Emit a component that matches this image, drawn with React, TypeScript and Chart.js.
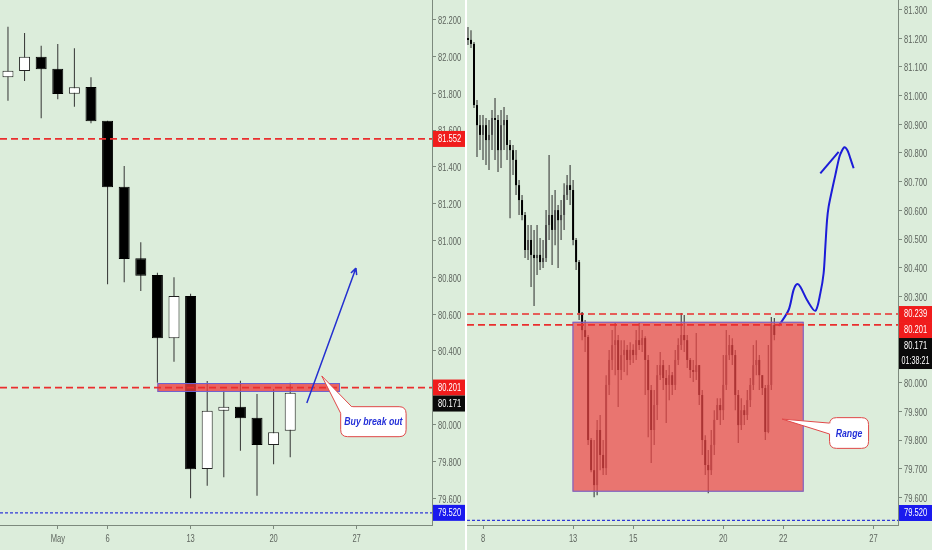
import React, { useEffect, useRef } from 'react';
import { Chart, registerables } from 'chart.js';
Chart.register(...registerables);

const FONT = "'Liberation Sans', Arial, sans-serif";
const BG = '#DCEDDB';
const AXIS = '#7d8a7d';
const TICK = '#5f665f';
const SQUEEZE = 0.72;

// ---------- LEFT PANEL: daily candles ----------
const leftOpen = [81.887, 81.921, 81.999, 81.934, 81.798, 81.834, 81.651, 81.292, 80.903, 80.813, 80.469, 80.698, 79.758, 80.075, 80.097, 80.037, 79.889, 79.966];
const leftHigh = [82.162, 82.128, 82.059, 82.068, 82.045, 81.887, 81.651, 81.405, 80.990, 80.825, 80.800, 80.710, 80.236, 80.184, 80.238, 80.166, 80.193, 80.227];
const leftLow = [81.760, 81.867, 81.664, 81.767, 81.727, 81.637, 80.762, 80.773, 80.726, 80.227, 80.341, 79.599, 79.667, 79.713, 79.858, 79.613, 79.784, 79.822];
const leftClose = [81.923, 81.999, 81.930, 81.796, 81.833, 81.648, 81.289, 80.900, 80.809, 80.469, 80.698, 79.757, 80.075, 80.097, 80.034, 79.889, 79.958, 80.173];
const leftTickPos = [3, 6, 11, 16, 21];
const leftTickLabels = ['May', '6', '13', '20', '27'];
const leftPriceTicks = [79.6, 79.8, 80.0, 80.2, 80.4, 80.6, 80.8, 81.0, 81.2, 81.4, 81.6, 81.8, 82.0, 82.2];
const leftRedLevels = [81.552, 80.201];
const leftBlueLevel = 79.52;
const leftTags = [
  { v: 81.552, color: '#f01c1c' },
  { v: 80.201, color: '#f01c1c' },
  { v: 80.171, color: '#0a0a0a' },
  { v: 79.52, color: '#1a1aee' },
];
const leftZone = { x0: 9.0, x1: 20.0, yTop: 80.2255, yBot: 80.177 };
const leftArrow = { x0: 18.0, y0: 80.117, x1: 20.96, y1: 80.85 };
const leftCallout = { x0: 20.04, x1: 23.98, yTop: 80.097, yBot: 79.934, tipX: 18.9, tipY: 80.264, b1X: 20.04, b1Y: 80.061, b2X: 20.7, b2Y: 80.097, text: 'Buy break out' };

// ---------- RIGHT PANEL: intraday candles ----------
const rightFirstOpen = 81.201;
const rightClose = [81.194, 81.180, 80.967, 80.897, 80.863, 80.897, 80.845, 80.863, 80.922, 80.915,
  80.810, 80.897, 80.915, 80.828, 80.810, 80.776, 80.688, 80.636, 80.584, 80.462,
  80.497, 80.445, 80.434, 80.445, 80.420, 80.434, 80.549, 80.584, 80.532, 80.601,
  80.566, 80.584, 80.654, 80.688, 80.671, 80.497, 80.420, 80.243, 80.183, 80.159,
  79.800, 79.695, 79.643, 79.835, 79.748, 79.702, 79.992, 80.079, 80.131, 80.148,
  80.044, 80.096, 80.114, 80.079, 80.114, 80.096, 80.148, 80.131, 80.155, 80.079,
  79.974, 79.835, 79.922, 80.026, 80.061, 80.016, 79.992, 80.026, 79.992, 80.079,
  80.131, 80.166, 80.148, 80.079, 80.044, 80.037, 80.061, 79.957, 79.800, 79.713,
  79.695, 79.783, 79.870, 79.922, 79.904, 79.992, 80.096, 80.131, 80.096, 79.957,
  79.852, 79.904, 79.887, 79.939, 79.992, 80.061, 80.079, 80.026, 79.981, 79.828,
  79.992, 80.201, 80.166];
const rightHigh = [81.239, 81.228, 81.187, 80.985, 80.932, 80.932, 80.922, 80.915, 80.950, 80.992,
  80.932, 80.950, 80.960, 80.932, 80.845, 80.828, 80.810, 80.706, 80.654, 80.594,
  80.549, 80.549, 80.532, 80.549, 80.504, 80.497, 80.601, 80.793, 80.654, 80.671,
  80.619, 80.636, 80.695, 80.723, 80.758, 80.706, 80.504, 80.427, 80.246, 80.218,
  80.166, 79.807, 79.800, 79.870, 79.887, 79.800, 80.026, 80.114, 80.183, 80.208,
  80.166, 80.148, 80.148, 80.131, 80.141, 80.134, 80.183, 80.208, 80.183, 80.162,
  80.096, 79.992, 79.974, 80.061, 80.107, 80.079, 80.044, 80.061, 80.037, 80.114,
  80.155, 80.243, 80.236, 80.166, 80.086, 80.079, 80.173, 80.061, 79.974, 79.817,
  79.765, 79.835, 79.904, 79.946, 79.946, 80.096, 80.183, 80.166, 80.155, 80.114,
  79.974, 79.946, 79.922, 79.974, 80.016, 80.131, 80.148, 80.096, 80.026, 79.992,
  80.131, 80.229, 80.225];
const rightLow = [81.176, 81.166, 80.957, 80.786, 80.810, 80.776, 80.758, 80.741, 80.810, 80.776,
  80.734, 80.748, 80.810, 80.776, 80.573, 80.723, 80.654, 80.584, 80.566, 80.434,
  80.427, 80.333, 80.267, 80.375, 80.392, 80.399, 80.420, 80.497, 80.410, 80.479,
  80.399, 80.497, 80.532, 80.636, 80.619, 80.479, 80.392, 80.218, 80.148, 80.107,
  79.783, 79.688, 79.601, 79.608, 79.695, 79.678, 79.678, 79.957, 80.044, 80.026,
  79.915, 80.009, 80.037, 80.026, 80.061, 80.068, 80.079, 80.114, 80.107, 79.957,
  79.810, 79.720, 79.783, 79.870, 80.009, 79.974, 79.859, 79.939, 79.957, 79.974,
  80.061, 80.114, 80.107, 80.051, 80.016, 80.002, 80.009, 79.922, 79.748, 79.678,
  79.615, 79.678, 79.748, 79.870, 79.852, 79.870, 79.974, 80.079, 80.061, 79.904,
  79.790, 79.835, 79.852, 79.870, 79.915, 79.974, 80.026, 79.974, 79.957, 79.800,
  79.824, 79.974, 80.148];
const rightOpen = [rightFirstOpen, ...rightClose.slice(0, -1)];
const rightTickPos = [5, 35, 55, 85, 105, 135];
const rightTickLabels = ['8', '13', '15', '20', '22', '27'];
const rightPriceTicks = [79.6, 79.7, 79.8, 79.9, 80.0, 80.1, 80.2, 80.3, 80.4, 80.5, 80.6, 80.7, 80.8, 80.9, 81.0, 81.1, 81.2, 81.3];
const rightRedLevels = [80.239, 80.201];
const rightBlueLevel = 79.52;
const rightTags = [
  { v: 80.239, color: '#f01c1c' },
  { v: 80.201, color: '#f01c1c' },
  { v: 80.171, color: '#0a0a0a', extra: '01:38:21' },
  { v: 79.52, color: '#1a1aee' },
];
const rightZone = { x0: 34.8, x1: 111.8, yTop: 80.212, yBot: 79.62 };
const rightCallout = { x0: 120.4, x1: 133.4, yTop: 79.878, yBot: 79.771, tipX: 104.6, tipY: 79.873, b1X: 120.4, b1Y: 79.859, b2X: 120.4, b2Y: 79.821, text: 'Range' };
const pathX = [103.43, 106.77, 108.43, 109.57, 110.67, 112.9, 115.67, 117.33, 118.43, 119.0, 119.57, 120.1, 121.23, 122.33, 123.43, 124.0, 125.33, 126.43, 127.33, 128.43];
const pathY = [80.197, 80.253, 80.323, 80.343, 80.334, 80.288, 80.25, 80.311, 80.381, 80.473, 80.566, 80.613, 80.671, 80.723, 80.776, 80.796, 80.82, 80.808, 80.781, 80.747];
const branchX = [117.33, 123.43];
const branchY = [80.729, 80.804];

function candleDatasets(open: number[], high: number[], low: number[], close: number[], bodyW: number, up: string, down: string, upBorder: string, wick: string, bw: number) {
  const xs = close.map((_, i) => i);
  return [
    {
      type: 'bar', label: 'wick', order: 3,
      data: xs.map(i => ({ x: i, y: [low[i], high[i]] })),
      backgroundColor: wick, borderWidth: 0, barThickness: 1, grouped: false, inflateAmount: 0,
    },
    {
      type: 'bar', label: 'body', order: 2,
      data: xs.map(i => ({ x: i, y: [open[i], close[i]] })),
      backgroundColor: xs.map(i => (close[i] >= open[i] ? up : down)),
      borderColor: xs.map(i => (close[i] >= open[i] ? upBorder : down)),
      borderWidth: bw, borderSkipped: false, barThickness: bodyW, grouped: false, inflateAmount: 0,
    },
  ];
}

function squeezedText(ctx: CanvasRenderingContext2D, s: string, x: number, y: number, align: 'left' | 'center', k: number) {
  ctx.save();
  ctx.translate(x, y);
  ctx.scale(k, 1);
  ctx.textAlign = align;
  ctx.textBaseline = 'middle';
  ctx.fillText(s, 0, 0);
  ctx.restore();
}

function roundRect(ctx: CanvasRenderingContext2D, x: number, y: number, w: number, h: number, r: number) {
  ctx.beginPath();
  ctx.moveTo(x + r, y);
  ctx.lineTo(x + w - r, y);
  ctx.quadraticCurveTo(x + w, y, x + w, y + r);
  ctx.lineTo(x + w, y + h - r);
  ctx.quadraticCurveTo(x + w, y + h, x + w - r, y + h);
  ctx.lineTo(x + r, y + h);
  ctx.quadraticCurveTo(x, y + h, x, y + h - r);
  ctx.lineTo(x, y + r);
  ctx.quadraticCurveTo(x, y, x + r, y);
  ctx.closePath();
}

function drawCallout(ctx: CanvasRenderingContext2D, xs: any, ys: any, c: any) {
  const L = xs.getPixelForValue(c.x0), R = xs.getPixelForValue(c.x1);
  const T = ys.getPixelForValue(c.yTop), B = ys.getPixelForValue(c.yBot);
  const tx = xs.getPixelForValue(c.tipX), ty = ys.getPixelForValue(c.tipY);
  const p1 = [xs.getPixelForValue(c.b1X), ys.getPixelForValue(c.b1Y)];
  const p2 = [xs.getPixelForValue(c.b2X), ys.getPixelForValue(c.b2Y)];
  const cx = (L + R) / 2, cy = (T + B) / 2;
  const inset = (p: number[]) => [p[0] + (cx - p[0]) * 0.15, p[1] + (cy - p[1]) * 0.15];
  ctx.save();
  ctx.lineWidth = 1;
  ctx.strokeStyle = '#e04848';
  ctx.fillStyle = '#ffffff';
  roundRect(ctx, L, T, R - L, B - T, 7);
  ctx.fill();
  ctx.stroke();
  const i1 = inset(p1), i2 = inset(p2);
  ctx.beginPath();
  ctx.moveTo(tx, ty);
  ctx.lineTo(p1[0], p1[1]);
  ctx.lineTo(i1[0], i1[1]);
  ctx.lineTo(i2[0], i2[1]);
  ctx.lineTo(p2[0], p2[1]);
  ctx.closePath();
  ctx.fill();
  ctx.beginPath();
  ctx.moveTo(p1[0], p1[1]);
  ctx.lineTo(tx, ty);
  ctx.lineTo(p2[0], p2[1]);
  ctx.stroke();
  ctx.fillStyle = '#2430d8';
  ctx.font = `italic bold 11.5px ${FONT}`;
  squeezedText(ctx, c.text, cx, cy + 0.5, 'center', 0.76);
  ctx.restore();
}

function makePlugin(p: any) {
  return {
    id: 'annot_' + p.id,
    afterDatasetsDraw(chart: any) {
      const { ctx, chartArea: a, scales } = chart;
      const xs = scales.x, ys = scales.y;
      ctx.save();
      ctx.beginPath();
      ctx.rect(a.left, a.top, a.right - a.left, a.bottom - a.top);
      ctx.clip();
      const z = p.zone;
      const zx0 = xs.getPixelForValue(z.x0), zx1 = xs.getPixelForValue(z.x1);
      const zy0 = ys.getPixelForValue(z.yTop), zy1 = ys.getPixelForValue(z.yBot);
      ctx.fillStyle = p.zoneFill;
      ctx.fillRect(zx0, zy0, zx1 - zx0, zy1 - zy0);
      ctx.strokeStyle = '#6a62d4';
      ctx.lineWidth = 1;
      ctx.strokeRect(zx0 + 0.5, zy0 + 0.5, zx1 - zx0 - 1, zy1 - zy0 - 1);
      ctx.strokeStyle = '#ea2e2e';
      ctx.lineWidth = 1.7;
      ctx.setLineDash([7, 4]);
      p.red.forEach((v: number) => {
        const y = ys.getPixelForValue(v);
        ctx.beginPath();
        ctx.moveTo(a.left, y);
        ctx.lineTo(a.right, y);
        ctx.stroke();
      });
      ctx.strokeStyle = '#3038d8';
      ctx.lineWidth = 1.2;
      ctx.setLineDash([3, 2]);
      const by = ys.getPixelForValue(p.blue);
      ctx.beginPath();
      ctx.moveTo(a.left, by);
      ctx.lineTo(a.right, by);
      ctx.stroke();
      ctx.setLineDash([]);
      if (p.arrow) {
        const ar = p.arrow;
        const ax0 = xs.getPixelForValue(ar.x0), ay0 = ys.getPixelForValue(ar.y0);
        const ax1 = xs.getPixelForValue(ar.x1), ay1 = ys.getPixelForValue(ar.y1);
        ctx.strokeStyle = '#2430d0';
        ctx.lineWidth = 1.5;
        ctx.beginPath();
        ctx.moveTo(ax0, ay0);
        ctx.lineTo(ax1, ay1);
        const ang = Math.atan2(ay1 - ay0, ax1 - ax0);
        const hl = 7;
        ctx.moveTo(ax1, ay1);
        ctx.lineTo(ax1 - hl * Math.cos(ang - 0.45), ay1 - hl * Math.sin(ang - 0.45));
        ctx.moveTo(ax1, ay1);
        ctx.lineTo(ax1 - hl * Math.cos(ang + 0.45), ay1 - hl * Math.sin(ang + 0.45));
        ctx.stroke();
      }
      drawCallout(ctx, xs, ys, p.callout);
      ctx.restore();
    },
    afterDraw(chart: any) {
      const { ctx, chartArea: a, scales } = chart;
      const xs = scales.x, ys = scales.y;
      ctx.save();
      ctx.font = `10.5px ${FONT}`;
      ctx.fillStyle = TICK;
      ys.ticks.forEach((t: any) => {
        squeezedText(ctx, Number(t.value).toFixed(3), a.right + 6, ys.getPixelForValue(t.value) + 1.5, 'left', SQUEEZE);
      });
      xs.ticks.forEach((t: any) => {
        const lbl = p.tickLabels[p.tickPos.indexOf(t.value)] ?? '';
        squeezedText(ctx, lbl, xs.getPixelForValue(t.value), a.bottom + 14, 'center', SQUEEZE);
      });
      const x0 = a.right + 1;
      const w = chart.width - x0;
      let prevBottom = -Infinity;
      p.tags.forEach((t: any) => {
        const lines = t.extra ? [t.v.toFixed(3), t.extra] : [t.v.toFixed(3)];
        const h = lines.length === 1 ? 16 : 31;
        let top = ys.getPixelForValue(t.v) - 8;
        if (top < prevBottom) top = prevBottom;
        if (top + h > a.bottom - 4) top = a.bottom - 4 - h;
        ctx.fillStyle = t.color;
        ctx.fillRect(x0, top, w, h);
        ctx.fillStyle = '#ffffff';
        lines.forEach((s: string, k: number) => {
          if (k === 0) squeezedText(ctx, s, a.right + 6, top + 8.5, 'left', SQUEEZE);
          else squeezedText(ctx, s, x0 + w / 2, top + 8.5 + 15 * k, 'center', 0.68);
        });
        prevBottom = top + h;
      });
      ctx.restore();
    },
  };
}

function buildConfig(p: any) {
  return {
    type: 'bar',
    data: { datasets: p.datasets },
    options: {
      responsive: false,
      animation: false,
      events: [],
      layout: { padding: 0, autoPadding: false },
      plugins: { legend: { display: false }, tooltip: { enabled: false } },
      scales: {
        x: {
          type: 'linear', min: p.xMin, max: p.xMax, offset: false,
          grid: { display: true, drawOnChartArea: false, drawTicks: true, tickLength: 4, color: AXIS, offset: false },
          border: { display: true, color: AXIS, width: 1 },
          ticks: { display: false, autoSkip: false, maxRotation: 0 },
          afterBuildTicks: (s: any) => { s.ticks = p.tickPos.map((v: number) => ({ value: v })); },
          afterFit: (s: any) => { s.height = 25; s.paddingLeft = 0; s.paddingRight = 0; s.paddingTop = 0; s.paddingBottom = 0; },
        },
        y: {
          type: 'linear', position: 'right', min: p.yMin, max: p.yMax, beginAtZero: false,
          grid: { display: true, drawOnChartArea: false, drawTicks: true, tickLength: 4, color: AXIS },
          border: { display: true, color: AXIS, width: 1 },
          ticks: { display: false, autoSkip: false },
          afterBuildTicks: (s: any) => { s.ticks = p.priceTicks.map((v: number) => ({ value: v })); },
          afterFit: (s: any) => { s.width = p.yAxisW; s.paddingTop = 0; s.paddingBottom = 0; s.paddingLeft = 0; s.paddingRight = 0; },
        },
      },
    },
    plugins: [makePlugin(p)],
  };
}

export default function App() {
  const leftRef = useRef<HTMLCanvasElement>(null);
  const rightRef = useRef<HTMLCanvasElement>(null);
  useEffect(() => {
    document.body.style.margin = '0';
    const left = {
      id: 'left',
      datasets: candleDatasets(leftOpen, leftHigh, leftLow, leftClose, 11, '#ffffff', '#000000', '#222222', '#333333', 1),
      xMin: -0.48, xMax: 25.54, yMin: 79.454, yMax: 82.307, yAxisW: 33,
      tickPos: leftTickPos, tickLabels: leftTickLabels, priceTicks: leftPriceTicks,
      red: leftRedLevels, blue: leftBlueLevel, tags: leftTags,
      zone: leftZone, zoneFill: 'rgba(240,60,60,0.78)', arrow: leftArrow, callout: leftCallout,
    };
    const right = {
      id: 'right',
      datasets: [
        ...candleDatasets(rightOpen, rightHigh, rightLow, rightClose, 2, '#4a4a4a', '#000000', '#4a4a4a', '#2a2a2a', 0),
        {
          type: 'line', label: 'path', order: 0,
          data: pathX.map((x, i) => ({ x, y: pathY[i] })),
          borderColor: '#1c1cd8', borderWidth: 2, pointRadius: 0, tension: 0.3, fill: false,
        },
        {
          type: 'line', label: 'branch', order: 0,
          data: branchX.map((x, i) => ({ x, y: branchY[i] })),
          borderColor: '#1c1cd8', borderWidth: 2, pointRadius: 0, fill: false,
        },
      ],
      xMin: -0.33, xMax: 143.2, yMin: 79.504, yMax: 81.333, yAxisW: 34,
      tickPos: rightTickPos, tickLabels: rightTickLabels, priceTicks: rightPriceTicks,
      red: rightRedLevels, blue: rightBlueLevel, tags: rightTags,
      zone: rightZone, zoneFill: 'rgba(238,70,70,0.72)', arrow: null, callout: rightCallout,
    };
    const c1 = new Chart(leftRef.current as HTMLCanvasElement, buildConfig(left) as any);
    const c2 = new Chart(rightRef.current as HTMLCanvasElement, buildConfig(right) as any);
    return () => { c1.destroy(); c2.destroy(); };
  }, []);
  return (
    <div style={{ position: 'relative', width: 932, height: 550, background: '#ffffff', overflow: 'hidden' }}>
      <canvas ref={leftRef} width={465} height={550} style={{ position: 'absolute', left: 0, top: 0, width: 465, height: 550, background: BG }} />
      <canvas ref={rightRef} width={465} height={550} style={{ position: 'absolute', left: 467, top: 0, width: 465, height: 550, background: BG }} />
    </div>
  );
}
